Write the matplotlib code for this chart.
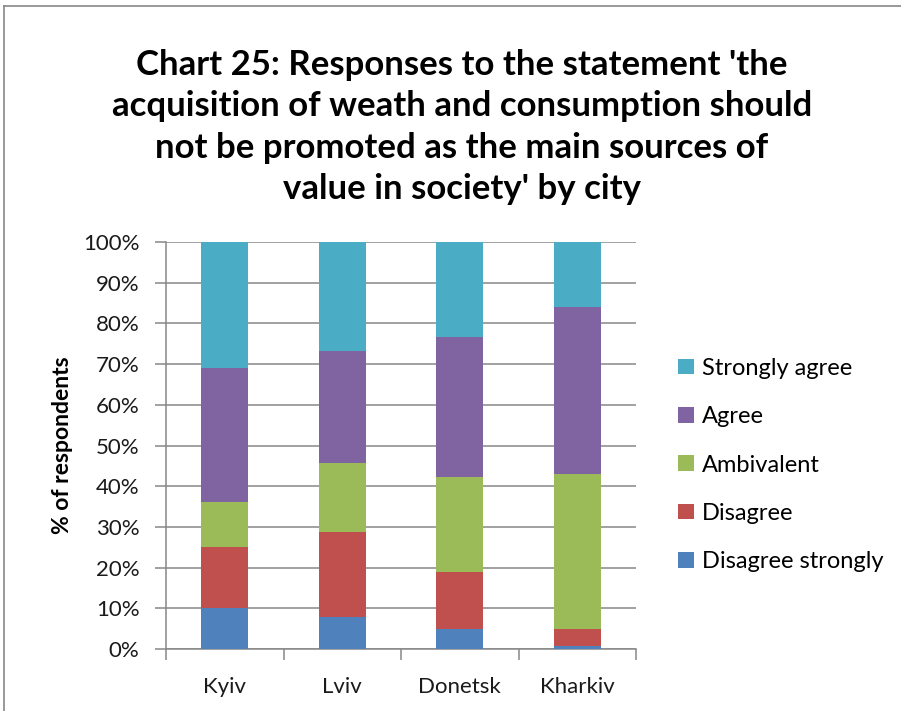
import matplotlib.pyplot as plt
from matplotlib.lines import Line2D
from matplotlib.patches import Patch
import numpy as np

cities = ["Kyiv", "Lviv", "Donetsk", "Kharkiv"]
disagree_strongly = [10.0, 7.8, 4.9, 0.8]
disagree = [15.0, 20.9, 14.1, 4.0]
ambivalent = [11.0, 16.9, 23.3, 38.1]
agree = [33.0, 27.5, 34.3, 41.1]
strongly_agree = [31.0, 26.9, 23.4, 16.0]

series = [
    ("Disagree strongly", disagree_strongly, "#4F81BD"),
    ("Disagree", disagree, "#C0504D"),
    ("Ambivalent", ambivalent, "#9BBB59"),
    ("Agree", agree, "#8064A2"),
    ("Strongly agree", strongly_agree, "#4BACC6"),
]

plt.rcParams["font.family"] = ["Lato", "DejaVu Sans"]
grey = "#878787"

fig = plt.figure(figsize=(9.01, 7.11), dpi=100)
ax = fig.add_axes([166 / 901, 1 - 649 / 711, 470 / 901, 407 / 711])

x = np.arange(len(cities))
bottom = np.zeros(len(cities))
for name, vals, col in series:
    ax.bar(x, vals, width=0.4, bottom=bottom, color=col, label=name, zorder=3)
    bottom += np.array(vals)

ax.set_xlim(-0.5, len(cities) - 0.5)
ax.set_ylim(0, 100)
ax.set_yticks(np.arange(0, 101, 10))
ax.set_yticklabels([f"{v}%" for v in range(0, 101, 10)], fontsize=16, color="#1a1a1a")
ax.set_xticks(x)
ax.set_xticklabels(cities, fontsize=16, color="#1a1a1a")
ax.set_xticks(np.arange(-0.5, len(cities)), minor=True)
ax.tick_params(axis="x", which="major", length=0, pad=20)
ax.tick_params(axis="x", which="minor", length=8, width=1.1, color=grey)
ax.tick_params(axis="y", length=8, width=1.1, color=grey, pad=11)
ax.grid(axis="y", color=grey, linewidth=1.1, zorder=0)
for side in ["top", "right"]:
    ax.spines[side].set_visible(False)
for side in ["left", "bottom"]:
    ax.spines[side].set_color(grey)
    ax.spines[side].set_linewidth(1.1)

ax.set_ylabel("% of respondents", fontsize=16.5, fontweight="bold", labelpad=7)

fig.text(462 / 901, 1 - 127 / 711,
         "Chart 25: Responses to the statement 'the\n"
         "acquisition of weath and consumption should\n"
         "not be promoted as the main sources of\n"
         "value in society' by city",
         ha="center", va="center", fontsize=25, fontweight="bold",
         linespacing=1.36)

handles = [Patch(facecolor=col, label=name) for name, vals, col in reversed(series)]
fig.legend(handles=handles, loc="center left", bbox_to_anchor=(657 / 901, 1 - 465 / 711),
           frameon=False, fontsize=17, handlelength=0.65, handleheight=0.65,
           handletextpad=0.35, labelspacing=1.16)

# chart frame
fig.add_artist(Line2D([4 / 901, 1], [1 - 6 / 711, 1 - 6 / 711], color=grey, lw=1.2))
fig.add_artist(Line2D([4 / 901, 4 / 901], [0, 1 - 6 / 711], color=grey, lw=1.2))

fig.savefig("out.png", dpi=100)
